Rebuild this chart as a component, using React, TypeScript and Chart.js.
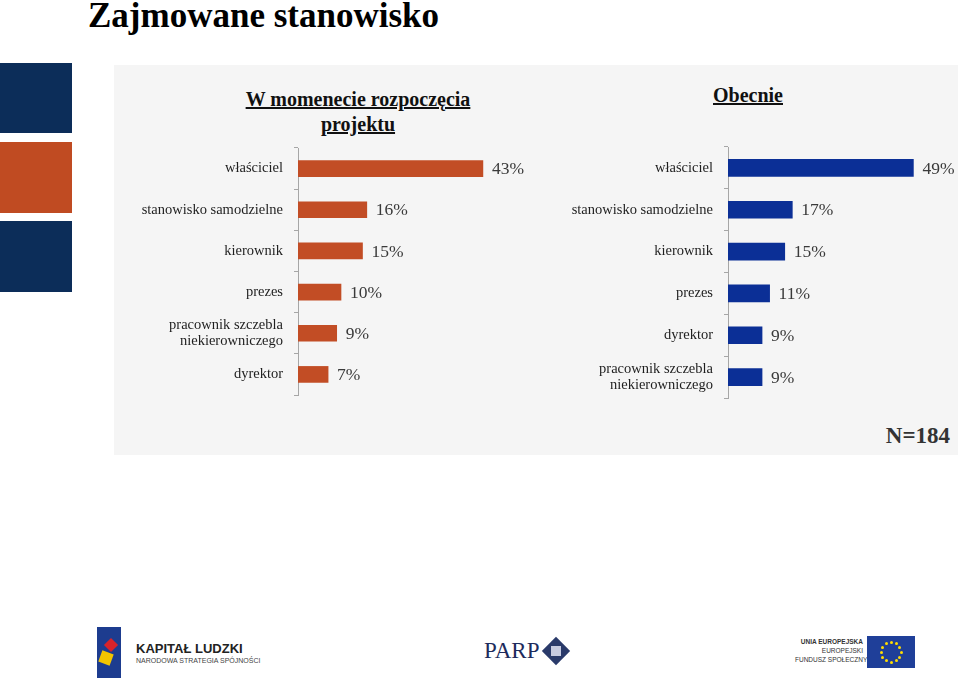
import React, { useEffect, useRef } from "react";
import { Chart, registerables } from "chart.js";

Chart.register(...registerables);

const startCategories: (string | string[])[] = [
  "właściciel",
  "stanowisko samodzielne",
  "kierownik",
  "prezes",
  ["pracownik szczebla", "niekierowniczego"],
  "dyrektor",
];
const startValues = [43, 16, 15, 10, 9, 7];

const nowCategories: (string | string[])[] = [
  "właściciel",
  "stanowisko samodzielne",
  "kierownik",
  "prezes",
  "dyrektor",
  ["pracownik szczebla", "niekierowniczego"],
];
const nowValues = [49, 17, 15, 11, 9, 9];

const SERIF = '"Liberation Serif", "Times New Roman", serif';
const SANS = '"Liberation Sans", Arial, sans-serif';

type BarProps = {
  labels: (string | string[])[];
  values: number[];
  color: string;
  left: number;
  top: number;
  axisWidth: number;
  plotWidth: number;
  height: number;
  padTop: number;
  padBottom: number;
  barThickness: number;
};

function BarChart(p: BarProps) {
  const ref = useRef<HTMLCanvasElement | null>(null);
  useEffect(() => {
    if (!ref.current) return;
    const valuesRef = p.values;
    const chart = new Chart(ref.current, {
      type: "bar",
      data: {
        labels: p.labels,
        datasets: [
          {
            data: p.values,
            backgroundColor: p.color,
            borderWidth: 0,
            barThickness: p.barThickness,
          },
        ],
      },
      options: {
        indexAxis: "y",
        animation: false,
        responsive: false,
        maintainAspectRatio: false,
        layout: { padding: { top: p.padTop, bottom: p.padBottom, left: 0, right: 0 } },
        plugins: {
          legend: { display: false },
          tooltip: { enabled: false },
          title: { display: false },
        },
        scales: {
          x: { display: false, min: 0, max: 60 },
          y: {
            afterFit: (s: any) => {
              s.width = p.axisWidth;
              s.paddingTop = 0;
              s.paddingBottom = 0;
            },
            grid: {
              drawOnChartArea: false,
              drawTicks: true,
              tickLength: 4,
              color: "#a6a6a6",
              offset: true,
            },
            border: { color: "#a6a6a6", width: 1 },
            ticks: {
              color: "#1e1e1e",
              padding: 11,
              font: { family: SERIF, size: 14.5, lineHeight: 1.05 },
            },
          },
        },
      },
      plugins: [
        {
          id: "valueLabels",
          afterDatasetsDraw(c: any) {
            const ctx = c.ctx;
            const meta = c.getDatasetMeta(0);
            ctx.save();
            ctx.font = `17.5px ${SERIF}`;
            ctx.fillStyle = "#3a3a3a";
            ctx.textAlign = "left";
            ctx.textBaseline = "middle";
            meta.data.forEach((bar: any, i: number) => {
              ctx.fillText(`${valuesRef[i]}%`, bar.x + 9, bar.y + 1);
            });
            ctx.restore();
          },
        },
      ],
    });
    return () => chart.destroy();
  }, []);
  const w = p.axisWidth + p.plotWidth;
  return (
    <canvas
      ref={ref}
      width={w}
      height={p.height}
      style={{ position: "absolute", left: p.left, top: p.top, width: w, height: p.height }}
    />
  );
}

function EuFlag() {
  const stars = [];
  for (let i = 0; i < 12; i++) {
    const a = (i / 12) * Math.PI * 2;
    stars.push(
      <div
        key={i}
        style={{
          position: "absolute",
          left: 24 + Math.cos(a) * 10 - 1.5,
          top: 16 + Math.sin(a) * 10 - 1.5,
          width: 3,
          height: 3,
          background: "#ffdd00",
          borderRadius: 2,
        }}
      />
    );
  }
  return (
    <div style={{ position: "absolute", left: 867, top: 636, width: 48, height: 32, background: "#1f3f99" }}>
      {stars}
    </div>
  );
}

export default function App() {
  return (
    <div
      style={{
        position: "absolute",
        left: 0,
        top: 0,
        width: 960,
        height: 682,
        background: "#ffffff",
        overflow: "hidden",
        fontFamily: SERIF,
      }}
    >
      <div
        style={{
          position: "absolute",
          left: 88,
          top: -4,
          fontSize: 35,
          fontWeight: "bold",
          color: "#000",
          whiteSpace: "nowrap",
          lineHeight: "40px",
        }}
      >
        Zajmowane stanowisko
      </div>

      <div style={{ position: "absolute", left: 0, top: 63, width: 72, height: 70, background: "#0c2d59" }} />
      <div style={{ position: "absolute", left: 0, top: 142, width: 72, height: 71, background: "#c04b22" }} />
      <div style={{ position: "absolute", left: 0, top: 221, width: 72, height: 71, background: "#0c2d59" }} />

      <div style={{ position: "absolute", left: 114, top: 65, width: 844, height: 390, background: "#f5f5f5" }} />

      <div
        style={{
          position: "absolute",
          left: 208,
          top: 87,
          width: 300,
          textAlign: "center",
          fontSize: 20,
          fontWeight: "bold",
          textDecoration: "underline",
          lineHeight: "25px",
          color: "#111",
        }}
      >
        W momenecie rozpoczęcia
        <br />
        projektu
      </div>
      <div
        style={{
          position: "absolute",
          left: 648,
          top: 83,
          width: 200,
          textAlign: "center",
          fontSize: 20,
          fontWeight: "bold",
          textDecoration: "underline",
          lineHeight: "25px",
          color: "#111",
        }}
      >
        Obecnie
      </div>

      <BarChart
        labels={startCategories}
        values={startValues}
        color="#c24d25"
        left={113}
        top={140}
        axisWidth={185}
        plotWidth={258}
        height={265}
        padTop={8}
        padBottom={10}
        barThickness={16}
      />
      <BarChart
        labels={nowCategories}
        values={nowValues}
        color="#0b2f96"
        left={560}
        top={139}
        axisWidth={168}
        plotWidth={227}
        height={270}
        padTop={8}
        padBottom={11}
        barThickness={17}
      />

      <div
        style={{
          position: "absolute",
          right: 10,
          top: 422,
          fontSize: 23,
          fontWeight: "bold",
          color: "#333",
          lineHeight: "28px",
        }}
      >
        N=184
      </div>

      {/* Footer logos */}
      <div style={{ position: "absolute", left: 97, top: 627, width: 24, height: 51, background: "#1d3c8f" }} />
      <div style={{ position: "absolute", left: 100, top: 652, width: 12, height: 12, background: "#f2c500", transform: "rotate(20deg)" }} />
      <div style={{ position: "absolute", left: 106, top: 640, width: 10, height: 10, background: "#d8232a", transform: "rotate(45deg)" }} />
      <div
        style={{
          position: "absolute",
          left: 136,
          top: 642,
          fontFamily: SANS,
          fontSize: 13,
          fontWeight: "bold",
          color: "#222",
          lineHeight: "14px",
          whiteSpace: "nowrap",
        }}
      >
        KAPITAŁ LUDZKI
      </div>
      <div
        style={{
          position: "absolute",
          left: 136,
          top: 657,
          fontFamily: SANS,
          fontSize: 7,
          color: "#444",
          lineHeight: "8px",
          whiteSpace: "nowrap",
        }}
      >
        NARODOWA STRATEGIA SPÓJNOŚCI
      </div>

      <div
        style={{
          position: "absolute",
          left: 484,
          top: 638,
          fontFamily: SERIF,
          fontSize: 23,
          color: "#1d2b5c",
          lineHeight: "26px",
          whiteSpace: "nowrap",
        }}
      >
        PARP
      </div>
      <div
        style={{
          position: "absolute",
          left: 546,
          top: 641,
          width: 20,
          height: 20,
          background: "#2a3a6a",
          transform: "rotate(45deg)",
        }}
      />
      <div
        style={{
          position: "absolute",
          left: 551,
          top: 646,
          width: 10,
          height: 10,
          background: "#c7cbe0",
        }}
      />

      <div
        style={{
          position: "absolute",
          left: 795,
          top: 637,
          width: 68,
          textAlign: "right",
          fontFamily: SANS,
          fontSize: 6.5,
          color: "#333",
          lineHeight: "9px",
          whiteSpace: "nowrap",
        }}
      >
        <b>UNIA EUROPEJSKA</b>
        <br />
        EUROPEJSKI
        <br />
        FUNDUSZ SPOŁECZNY
      </div>
      <EuFlag />
    </div>
  );
}
